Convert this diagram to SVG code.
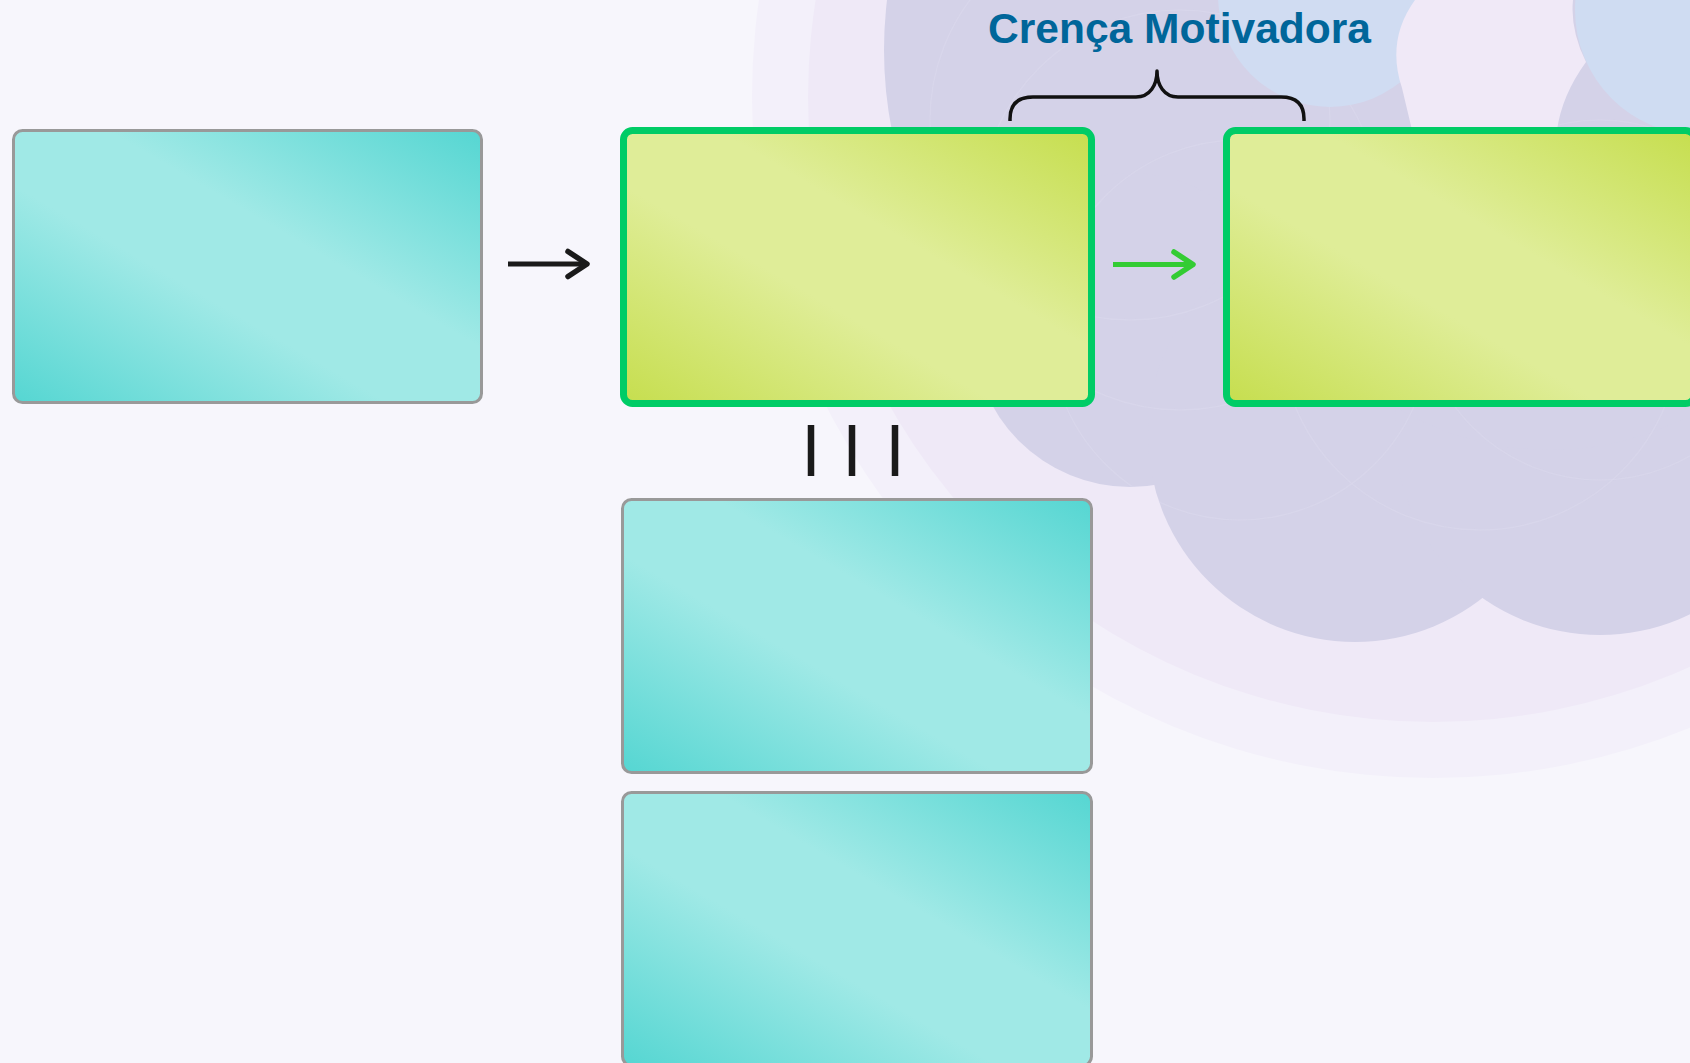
<svg xmlns="http://www.w3.org/2000/svg" width="1690" height="1063" viewBox="0 0 1690 1063">
  <defs>
    <linearGradient id="gTeal" x1="0" y1="1" x2="1" y2="0">
      <stop offset="0" stop-color="#55D6D2"/>
      <stop offset="0.4" stop-color="#A0E9E6"/>
      <stop offset="0.6" stop-color="#A0E9E6"/>
      <stop offset="1" stop-color="#55D6D2"/>
    </linearGradient>
    <linearGradient id="gLime" x1="0" y1="1" x2="1" y2="0">
      <stop offset="0" stop-color="#C6DE4E"/>
      <stop offset="0.4" stop-color="#DFED98"/>
      <stop offset="0.6" stop-color="#DFED98"/>
      <stop offset="1" stop-color="#C6DE4E"/>
    </linearGradient>
    <clipPath id="clusterClip">
      <circle cx="1300" cy="50" r="416"/>
      <circle cx="1130" cy="330" r="157"/>
      <circle cx="1355" cy="435" r="207"/>
      <circle cx="1600" cy="430" r="205"/>
      <circle cx="1550" cy="150" r="300"/>
    </clipPath>
    <marker id="headBlack" markerUnits="userSpaceOnUse" viewBox="-26 -16 30 32" refX="-3" refY="0" markerWidth="30" markerHeight="32" orient="auto" overflow="visible">
      <path d="M-19,-12.5 L0,0 L-19,12.5" fill="none" stroke="#1A1A1A" stroke-width="5.5" stroke-linecap="round" stroke-linejoin="round"/>
    </marker>
    <marker id="headGreen" markerUnits="userSpaceOnUse" viewBox="-26 -16 30 32" refX="-3" refY="0" markerWidth="30" markerHeight="32" orient="auto" overflow="visible">
      <path d="M-19,-12.5 L0,0 L-19,12.5" fill="none" stroke="#33CC33" stroke-width="5.5" stroke-linecap="round" stroke-linejoin="round"/>
    </marker>
    <style>
      .teal { fill: url(#gTeal); stroke: #999999; stroke-width: 3; }
      .lime { fill: url(#gLime); stroke: #00CC66; stroke-width: 7; }
      .bar { stroke: #1A1A1A; stroke-width: 6.5; stroke-linecap: butt; }
      .title { font-family: "Liberation Sans", Arial, sans-serif; font-weight: bold; font-size: 43px; fill: #00669A; }
      .scallop { fill: none; stroke: #DCDAEE; stroke-width: 1.5; opacity: 0.5; }
    </style>
  </defs>

  <g id="background">
    <rect x="0" y="0" width="1690" height="1063" fill="#F7F6FC"/>
    <circle cx="1433" cy="97" r="681" fill="#F3F0FA"/>
    <circle cx="1433" cy="97" r="625" fill="#EFE9F7"/>
    <g fill="#D4D2E8">
      <circle cx="1300" cy="50" r="416"/>
      <circle cx="1130" cy="330" r="157"/>
      <circle cx="1355" cy="435" r="207"/>
      <circle cx="1600" cy="430" r="205"/>
      <circle cx="1550" cy="150" r="300"/>
    </g>
    <g clip-path="url(#clusterClip)">
      <circle class="scallop" cx="1180" cy="210" r="200"/>
      <circle class="scallop" cx="1240" cy="330" r="190"/>
      <circle class="scallop" cx="1480" cy="330" r="200"/>
      <circle class="scallop" cx="1130" cy="120" r="200"/>
      <circle class="scallop" cx="1600" cy="300" r="180"/>
    </g>
    <circle cx="1330" cy="-5" r="112" fill="#D0DCF2"/>
    <circle cx="1700" cy="10" r="125" fill="#CFDCF2"/>
    <path d="M1415,0 Q1386,40 1402,88 L1412,130 L1557,130 Q1562,95 1586,62 Q1570,30 1573,0 Z" fill="#F0E9F7"/>
  </g>

  <g id="node-1">
    <rect class="teal" x="13.5" y="130.5" width="468" height="272" rx="9" ry="9"/>
  </g>
  <g id="node-2">
    <rect class="lime" x="623.5" y="130.5" width="468" height="273" rx="9" ry="9"/>
  </g>
  <g id="node-3">
    <rect class="lime" x="1226.5" y="130.5" width="468" height="273" rx="9" ry="9"/>
  </g>
  <g id="node-4">
    <rect class="teal" x="622.5" y="499.5" width="469" height="273" rx="9" ry="9"/>
  </g>
  <g id="node-5">
    <rect class="teal" x="622.5" y="792.5" width="469" height="273" rx="9" ry="9"/>
  </g>

  <g id="connectors">
    <line x1="508" y1="264" x2="584" y2="264" stroke="#1A1A1A" stroke-width="5" marker-end="url(#headBlack)"/>
    <line x1="1113" y1="264.5" x2="1190" y2="264.5" stroke="#33CC33" stroke-width="5" marker-end="url(#headGreen)"/>
    <line class="bar" x1="811" y1="425" x2="811" y2="476"/>
    <line class="bar" x1="852" y1="425" x2="852" y2="476"/>
    <line class="bar" x1="895" y1="425" x2="895" y2="476"/>
    <path d="M1010,121 L1010,119 Q1010,97 1033,97 L1136,97 C1150,97 1157,85 1157,71 C1157,85 1164,97 1178,97 L1281,97 Q1304,97 1304,119 L1304,121" fill="none" stroke="#111111" stroke-width="3.5" stroke-linejoin="round"/>
  </g>

  <g id="label">
    <text class="title" x="988" y="43" textLength="383" lengthAdjust="spacingAndGlyphs">Crença Motivadora</text>
  </g>
</svg>
